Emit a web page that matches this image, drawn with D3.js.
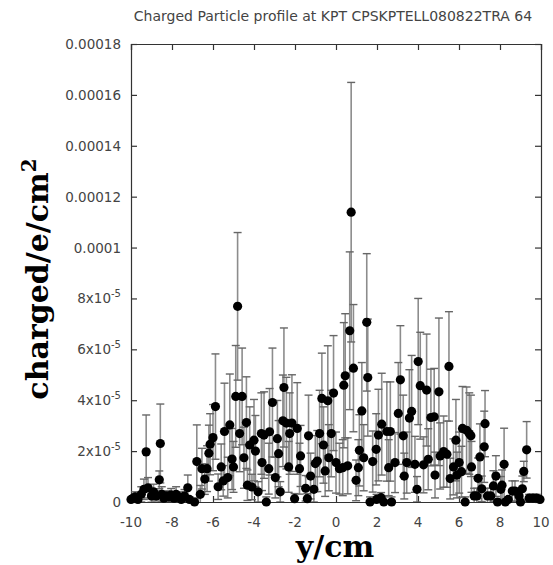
<!DOCTYPE html>
<html><head><meta charset="utf-8">
<script src="https://cdn.jsdelivr.net/npm/d3@7/dist/d3.min.js"></script>
<style>body{margin:0;background:#fff}svg{display:block}</style>
</head><body><svg id="c" width="553" height="565"></svg>
<script>
const titleText = "Charged Particle profile at KPT CPSKPTELL080822TRA 64";
const xLabel = "y/cm";
const UNIT = 1e-5;
const xPos = [-10.0,-9.90,-9.80,-9.66,-9.50,-9.37,-9.26,-9.17,-9.00,-8.90,-8.77,-8.62,-8.57,-8.50,-8.40,-8.28,-8.15,-8.04,-7.90,-7.80,-7.65,-7.55,-7.39,-7.23,-7.15,-6.90,-6.79,-6.62,-6.54,-6.40,-6.29,-6.20,-6.14,-6.00,-5.88,-5.75,-5.60,-5.50,-5.44,-5.28,-5.18,-5.07,-5.00,-4.89,-4.80,-4.70,-4.58,-4.49,-4.37,-4.32,-4.21,-4.10,-4.00,-3.93,-3.80,-3.64,-3.61,-3.51,-3.40,-3.28,-3.24,-3.10,-2.96,-2.86,-2.80,-2.72,-2.59,-2.54,-2.42,-2.31,-2.26,-2.15,-2.02,-1.89,-1.78,-1.73,-1.48,-1.40,-1.34,-1.24,-1.08,-1.01,-0.91,-0.80,-0.69,-0.61,-0.53,-0.40,-0.35,-0.23,-0.12,0.00,0.17,0.33,0.38,0.45,0.57,0.67,0.74,0.85,0.98,1.09,1.14,1.26,1.35,1.50,1.55,1.66,1.79,1.96,1.98,2.07,2.20,2.23,2.33,2.48,2.57,2.65,2.71,2.88,3.04,3.14,3.28,3.33,3.45,3.58,3.69,3.85,3.95,4.01,4.11,4.27,4.42,4.50,4.63,4.79,4.83,5.02,5.08,5.25,5.41,5.51,5.57,5.73,5.85,5.90,6.01,6.12,6.17,6.30,6.37,6.50,6.58,6.61,6.74,6.87,6.93,7.02,7.11,7.23,7.27,7.39,7.55,7.68,7.80,7.88,8.04,8.10,8.20,8.26,8.40,8.60,8.73,8.93,9.00,9.09,9.16,9.30,9.42,9.61,9.79,9.95];
const charge = [0.10,0.15,0.20,0.10,0.30,0.50,1.97,0.56,0.24,0.40,0.24,0.87,2.30,0.30,0.15,0.24,0.20,0.28,0.15,0.30,0.20,0.10,0.24,0.56,0.10,0.00,1.59,0.30,1.31,0.90,1.31,1.92,2.27,2.53,3.75,0.60,1.38,0.83,2.77,0.96,3.03,1.69,1.38,4.15,7.69,2.69,4.15,1.74,3.12,0.66,2.24,0.59,2.43,2.00,0.40,2.69,1.55,2.63,0.00,1.31,2.76,3.91,0.96,2.49,1.90,0.40,3.19,4.50,3.10,1.38,2.69,3.10,0.13,2.89,1.31,1.81,0.54,0.13,2.60,1.02,0.50,1.51,1.61,2.69,4.07,2.24,1.22,3.98,1.74,2.69,4.28,1.55,1.31,1.35,4.59,4.96,1.42,6.73,11.39,5.26,0.85,1.35,2.03,3.58,1.74,7.06,4.89,0.00,1.59,2.07,0.10,2.63,0.17,3.06,0.00,2.77,1.35,2.77,0.00,1.55,3.48,4.80,2.60,1.02,1.55,3.30,3.56,1.48,0.50,5.52,4.57,1.46,4.40,1.68,3.32,3.35,1.06,4.33,1.81,1.98,1.88,5.33,0.92,1.38,2.43,1.06,1.55,1.19,2.89,0.00,2.82,2.69,2.60,1.38,0.24,0.24,0.93,1.77,0.52,2.17,3.08,0.24,0.24,0.63,1.02,0.00,0.50,0.66,1.48,0.00,0.10,0.43,0.43,0.24,0.00,0.52,1.20,2.05,0.15,0.15,0.15,0.10];
const chargeErr = [0.10,0.15,0.20,0.10,0.30,0.40,1.45,0.40,0.25,0.30,0.20,0.35,1.55,0.30,0.15,0.20,0.20,0.25,0.15,0.30,0.20,0.10,0.25,0.50,0.10,0.10,1.44,0.35,0.80,0.60,0.90,1.10,1.20,1.30,2.07,0.50,0.90,0.60,1.90,0.80,2.00,1.20,1.00,2.00,2.90,1.50,1.90,1.20,1.80,0.60,1.50,0.50,1.60,1.40,0.40,1.60,1.10,1.70,0.20,1.00,1.70,2.14,0.80,1.50,1.30,0.40,1.80,2.34,1.80,1.00,1.60,1.90,0.20,1.80,1.00,1.20,0.50,0.20,1.60,0.90,0.50,1.10,1.20,1.70,1.78,1.50,1.00,2.16,1.30,1.70,2.26,1.20,1.00,1.10,2.46,2.44,1.10,3.10,5.10,2.50,0.80,1.10,1.40,1.90,1.30,2.70,2.30,0.20,1.20,1.40,0.20,1.80,0.20,2.00,0.20,1.95,1.10,1.95,0.20,1.18,2.00,2.13,1.60,0.90,1.20,1.90,2.20,1.10,0.50,2.48,2.10,1.10,2.20,1.20,1.90,1.90,0.90,2.90,1.30,1.40,1.30,2.15,0.80,1.10,1.60,0.90,1.20,1.00,1.65,0.20,1.70,1.60,1.60,1.00,0.30,0.30,0.80,1.30,0.50,1.40,1.30,0.30,0.30,0.60,0.80,0.10,0.50,0.60,1.42,0.10,0.10,0.40,0.40,0.30,0.10,0.50,0.40,1.11,0.15,0.15,0.15,0.10];
const xTicks = [-10,-8,-6,-4,-2,0,2,4,6,8,10];
const yTicks = [0,2e-5,4e-5,6e-5,8e-5,1e-4,1.2e-4,1.4e-4,1.6e-4,1.8e-4];
const yTickMant = ["0","2x10","4x10","6x10","8x10","0.0001","0.00012","0.00014","0.00016","0.00018"];
const yTickExp = ["","-5","-5","-5","-5","","","","",""];

const svg = d3.select("#c");
const L = 131, R = 541, T = 44, B = 502;
const x = d3.scaleLinear().domain([-10, 10]).range([L, R]);
const y = d3.scaleLinear().domain([0, 1.8e-4]).range([B, T]);

svg.append("defs").append("clipPath").attr("id","clip")
  .append("rect").attr("x",L).attr("y",T).attr("width",R-L).attr("height",B-T);

const data = xPos.map((d,i)=>({x:d, v:charge[i]*UNIT, e:chargeErr[i]*UNIT}));

// title
svg.append("text").attr("x", 333).attr("y", 21).attr("text-anchor","middle")
  .attr("font-family","DejaVu Sans").attr("font-size",14).attr("fill","#444").text(titleText);

// y tick labels
const yl = svg.append("g").attr("font-family","DejaVu Sans").attr("font-size",13.5).attr("fill","#444");
yTicks.forEach((t,i)=>{
  const tx = yl.append("text").attr("x",121).attr("y",y(t)+5).attr("text-anchor","end");
  tx.append("tspan").text(yTickMant[i]);
  if (yTickExp[i]) tx.append("tspan").attr("font-size",10).attr("dy",-6).text(yTickExp[i]);
});
// x tick labels
const xl = svg.append("g").attr("font-family","DejaVu Sans").attr("font-size",13.5).attr("fill","#444");
xTicks.forEach(t=>{
  xl.append("text").attr("x",x(t)).attr("y",527).attr("text-anchor","middle").text(t);
});

// axes frame via d3 axes (inward ticks)
const axB = d3.axisBottom(x).tickValues(xTicks).tickSize(-6).tickFormat("");
const axT = d3.axisTop(x).tickValues(xTicks).tickSize(-6).tickFormat("");
const axLft = d3.axisLeft(y).tickValues(yTicks).tickSize(-6).tickFormat("");
const axRt = d3.axisRight(y).tickValues(yTicks).tickSize(-6).tickFormat("");
[[axB,`translate(0,${B})`],[axT,`translate(0,${T})`],[axLft,`translate(${L},0)`],[axRt,`translate(${R},0)`]].forEach(([a,tr])=>{
  const g = svg.append("g").attr("transform",tr).call(a);
  g.selectAll("path,line").attr("stroke","#333").attr("stroke-width",1.2);
});

// error bars
const eb = svg.append("g").attr("clip-path","url(#clip)");
eb.selectAll("line.v").data(data).join("line")
  .attr("x1",d=>x(d.x)).attr("x2",d=>x(d.x))
  .attr("y1",d=>y(d.v-d.e)).attr("y2",d=>y(d.v+d.e))
  .attr("stroke","#8c8c8c").attr("stroke-width",1.6);
eb.selectAll("line.t").data(data).join("line")
  .attr("x1",d=>x(d.x)-4).attr("x2",d=>x(d.x)+4)
  .attr("y1",d=>y(d.v+d.e)).attr("y2",d=>y(d.v+d.e))
  .attr("stroke","#666").attr("stroke-width",1.4);
eb.selectAll("line.b").data(data).join("line")
  .attr("x1",d=>x(d.x)-4).attr("x2",d=>x(d.x)+4)
  .attr("y1",d=>y(d.v-d.e)).attr("y2",d=>y(d.v-d.e))
  .attr("stroke","#666").attr("stroke-width",1.4);

// points
svg.append("g").selectAll("circle").data(data).join("circle")
  .attr("cx",d=>x(d.x)).attr("cy",d=>y(d.v)).attr("r",4.6).attr("fill","#000");

// x label
svg.append("text").attr("x",335).attr("y",557).attr("text-anchor","middle")
  .attr("font-family","DejaVu Serif").attr("font-weight","bold").attr("font-size",30).attr("fill","#000").text(xLabel);

// y label
const ylab = svg.append("text").attr("transform","translate(48,279) rotate(-90)").attr("text-anchor","middle")
  .attr("font-family","DejaVu Serif").attr("font-weight","bold").attr("font-size",30).attr("fill","#000");
ylab.append("tspan").text("charged/e/cm");
ylab.append("tspan").attr("font-size",20).attr("dy",-12).text("2");
</script></body></html>
